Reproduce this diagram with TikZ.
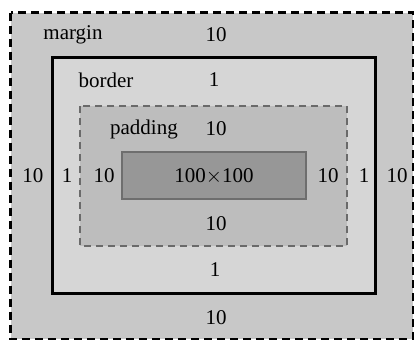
\documentclass[tikz,border=0pt]{standalone}
\usepackage{fontspec}
\setmainfont{Liberation Serif}
\tikzset{
  lbl/.style={font=\fontsize{21}{23}\selectfont, inner sep=0pt, anchor=center},
  marginbox/.style={draw=black, line width=2.5pt, dash pattern=on 8pt off 5pt, fill=marginfill},
  borderbox/.style={draw=black, line width=3pt, fill=borderfill},
  paddingbox/.style={draw=paddingline, line width=2.5pt, dash pattern=on 7pt off 5pt, fill=paddingfill},
  contentbox/.style={draw=contentline, line width=2pt, fill=contentfill},
}
\definecolor{marginfill}{HTML}{C8C8C8}
\definecolor{borderfill}{HTML}{D6D6D6}
\definecolor{paddingfill}{HTML}{BDBDBD}
\definecolor{paddingline}{HTML}{6A6A6A}
\definecolor{contentfill}{HTML}{979797}
\definecolor{contentline}{HTML}{6E6E6E}
\begin{document}
\begin{tikzpicture}[x=1pt,y=-1pt]
\useasboundingbox (0,0) rectangle (416,341);
\fill[white] (0,0) rectangle (416,341);
\draw[marginbox] (10.5,12.5) rectangle (413,339);
\draw[borderbox] (52,57) rectangle (375,293);
\draw[paddingbox] (80,106) rectangle (347,246);
\draw[contentbox] (122,152) rectangle (306,199);
\node[lbl] (m) at (73,35) {margin};
\node[lbl] (mt) at (216,35) {10};
\node[lbl] (b) at (106,80) {border};
\node[lbl] (bt) at (214,80) {1};
\node[lbl] (p) at (144,129) {padding};
\node[lbl] (pt) at (216,129) {10};
\node[lbl] (c) at (214,176) {100$\times$100};
\node[lbl] (ml) at (33,176) {10};
\node[lbl] (bl) at (67,176) {1};
\node[lbl] (pl) at (104,176) {10};
\node[lbl] (pr) at (328,176) {10};
\node[lbl] (br) at (364,176) {1};
\node[lbl] (mr) at (397,176) {10};
\node[lbl] (pb) at (216,224) {10};
\node[lbl] (bb) at (215,270) {1};
\node[lbl] (mb) at (216,318) {10};
\end{tikzpicture}
\end{document}
